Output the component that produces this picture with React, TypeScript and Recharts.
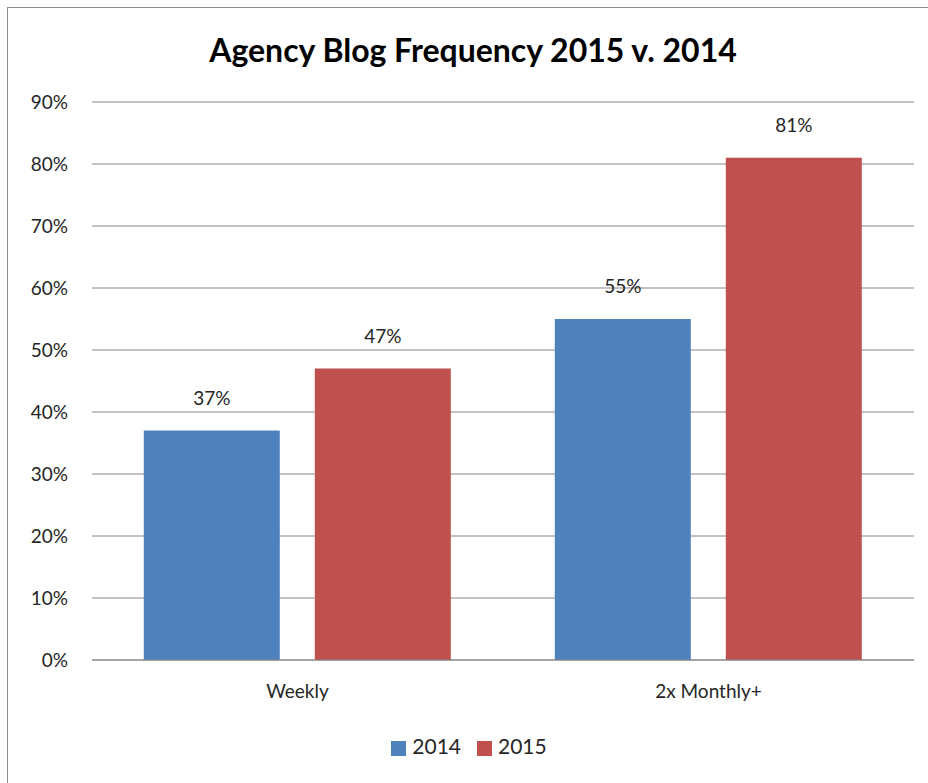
import { BarChart, Bar, XAxis, YAxis, CartesianGrid, Legend, LabelList } from "recharts";

const categories = ["Weekly", "2x Monthly+"];
const values2014 = [37, 55];
const values2015 = [47, 81];
const yTicks = [0, 10, 20, 30, 40, 50, 60, 70, 80, 90];

const data = categories.map((name, i) => ({
  name,
  y2014: values2014[i],
  y2015: values2015[i],
}));

const FONT = "Lato, 'Open Sans', sans-serif";
const TEXT = "#262626";

export default function App() {
  return (
    <div
      style={{
        position: "absolute",
        left: 0,
        top: 0,
        width: 928,
        height: 783,
        background: "#fff",
        overflow: "hidden",
        fontFamily: FONT,
      }}
    >
      <div
        style={{
          position: "absolute",
          left: 7,
          top: 7,
          width: 940,
          height: 800,
          border: "1.5px solid #8c8c8c",
        }}
      />
      <div
        style={{
          position: "absolute",
          left: 0,
          top: 30,
          width: 946,
          textAlign: "center",
          fontSize: 32,
          fontWeight: 700,
          color: "#000",
        }}
      >
        Agency Blog Frequency 2015 v. 2014
      </div>
      <div style={{ position: "absolute", left: 0, top: 0 }}>
        <BarChart
          width={928}
          height={783}
          data={data}
          margin={{ top: 102, right: 14, bottom: 0, left: 0 }}
          barCategoryGap="12.6%"
          barGap={35}
        >
          <CartesianGrid vertical={false} stroke="#868686" strokeWidth={1} />
          <XAxis
            dataKey="name"
            axisLine={{ stroke: "#868686" }}
            tickLine={false}
            tickSize={0}
            tickMargin={25}
            height={73}
            tick={{ fill: TEXT, fontSize: 19, fontFamily: FONT }}
          />
          <YAxis
            domain={[0, 90]}
            ticks={yTicks}
            interval={0}
            width={92}
            axisLine={false}
            tickLine={false}
            tickSize={0}
            tickMargin={24}
            tickFormatter={(v: number) => `${v}%`}
            tick={{ fill: TEXT, fontSize: 19, fontFamily: FONT }}
          />
          <Legend
            verticalAlign="bottom"
            iconType="square"
            iconSize={15}
            height={50}
            wrapperStyle={{ left: 20, fontSize: 21, fontFamily: FONT }}
            formatter={(value: string) => (
              <span style={{ color: TEXT, paddingLeft: 2, paddingRight: 6 }}>{value}</span>
            )}
          />
          <Bar dataKey="y2014" name="2014" fill="#4F81BD" isAnimationActive={false}>
            <LabelList
              dataKey="y2014"
              position="top"
              offset={26}
              formatter={(v: number) => `${v}%`}
              style={{ fill: TEXT, fontSize: 19, fontFamily: FONT }}
            />
          </Bar>
          <Bar dataKey="y2015" name="2015" fill="#C0504D" isAnimationActive={false}>
            <LabelList
              dataKey="y2015"
              position="top"
              offset={26}
              formatter={(v: number) => `${v}%`}
              style={{ fill: TEXT, fontSize: 19, fontFamily: FONT }}
            />
          </Bar>
        </BarChart>
      </div>
    </div>
  );
}
